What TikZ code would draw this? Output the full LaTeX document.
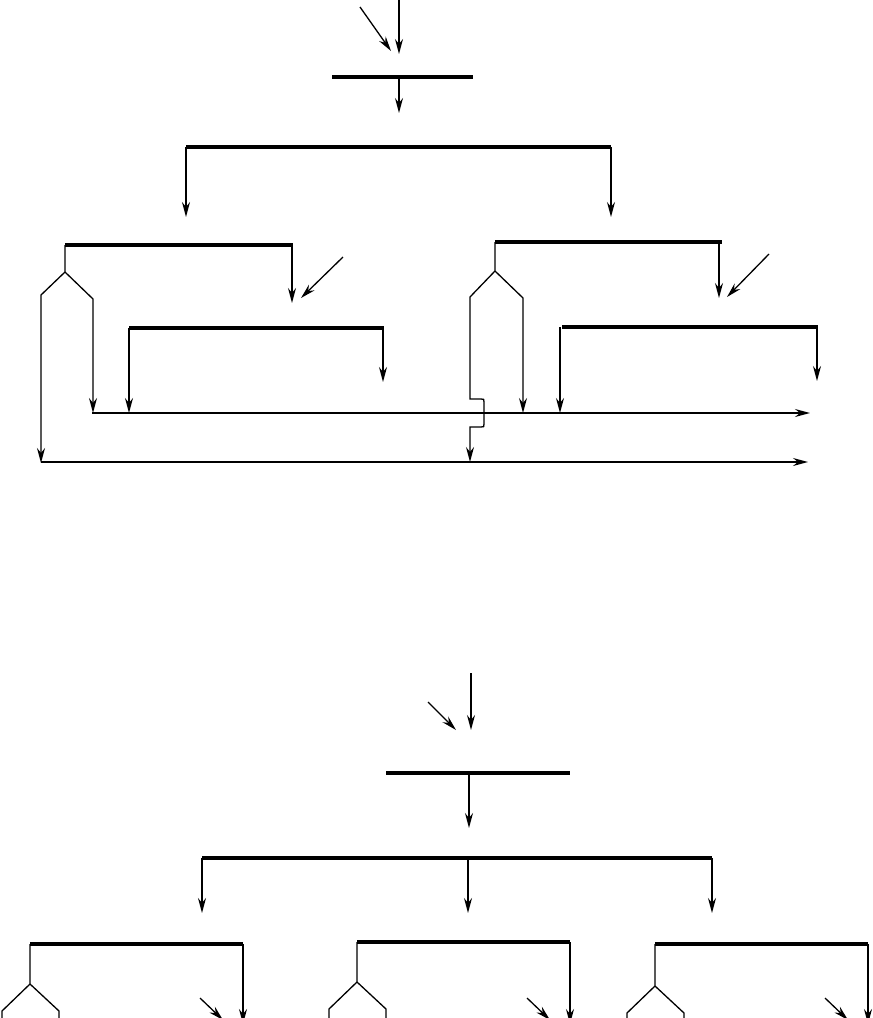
\documentclass[tikz,border=0pt]{standalone}
\usetikzlibrary{arrows.meta}
\begin{document}
\begin{tikzpicture}[x=1pt,y=-1pt,line width=1.3pt,
  flow/.style={-{Stealth[length=15pt,width=8pt,inset=5pt]}},
  bar/.style={line width=4pt}]
\useasboundingbox (0,0) rectangle (873,1018);
% ---------------- top diagram ----------------
\coordinate (inA) at (399,0);   \coordinate (inAe) at (399,54);
\coordinate (inB) at (360,7);   \coordinate (inBe) at (391,51);
\coordinate (b1l) at (332,77);  \coordinate (b1r) at (473,77);
\coordinate (b1c) at (399,77);  \coordinate (b1e) at (399,113);
\coordinate (b2l) at (186,147); \coordinate (b2r) at (611,147);
\coordinate (b2le) at (186,217); \coordinate (b2re) at (611,217);
\draw[flow] (inA) -- (inAe);
\draw[flow] (inB) -- (inBe);
\draw[bar] (b1l) -- (b1r);
\draw[flow] (b1c) -- (b1e);
\draw[bar] (b2l) -- (b2r);
\draw[flow] (b2l) -- (b2le);
\draw[flow] (b2r) -- (b2re);
% left subtree
\coordinate (L1) at (65,245);  \coordinate (L2) at (293,245);
\coordinate (Lr) at (292,245); \coordinate (Lre) at (292,303);
\coordinate (Ld) at (343,257); \coordinate (Lde) at (301,298);
\coordinate (Lv) at (65,272);
\coordinate (Lvl) at (41,295); \coordinate (Lvle) at (41,463);
\coordinate (Lvr) at (93,299); \coordinate (Lvre) at (93,413);
\coordinate (Li1) at (129,328); \coordinate (Li2) at (384,328);
\coordinate (Li1e) at (129,413);
\coordinate (Li2s) at (383,328); \coordinate (Li2e) at (383,382);
\draw[bar] (L1) -- (L2);
\draw[flow] (Lr) -- (Lre);
\draw[flow] (Ld) -- (Lde);
\draw[flow] (L1) -- (Lv) -- (Lvl) -- (Lvle);
\draw[flow] (Lv) -- (Lvr) -- (Lvre);
\draw[bar] (Li1) -- (Li2);
\draw[flow] (Li1) -- (Li1e);
\draw[flow] (Li2s) -- (Li2e);
% right subtree
\coordinate (R1) at (495,242); \coordinate (R2) at (722,242);
\coordinate (Rr) at (719,242); \coordinate (Rre) at (719,298);
\coordinate (Rd) at (769,254); \coordinate (Rde) at (727,297);
\coordinate (Rv) at (495,271);
\coordinate (Rvl) at (470,297);
\coordinate (Rj1) at (470,399); \coordinate (Rj2) at (470,427);
\coordinate (Rvle) at (470,462);
\coordinate (Rvr) at (523,298); \coordinate (Rvre) at (523,413);
\coordinate (Ri1) at (562,327); \coordinate (Ri2) at (818,327);
\coordinate (Ri1s) at (560,327); \coordinate (Ri1e) at (560,413);
\coordinate (Ri2s) at (817,327); \coordinate (Ri2e) at (817,381);
\draw[bar] (R1) -- (R2);
\draw[flow] (Rr) -- (Rre);
\draw[flow] (Rd) -- (Rde);
\draw[flow] (R1) -- (Rv) -- (Rvl) -- (Rj1) -- ++(11,0)
  .. controls ++(3,0) .. ++(3,3) -- ++(0,22)
  .. controls ++(0,3) .. ++(-3,3) -- (Rj2) -- (Rvle);
\draw[flow] (Rv) -- (Rvr) -- (Rvre);
\draw[bar] (Ri1) -- (Ri2);
\draw[flow] (Ri1s) -- (Ri1e);
\draw[flow] (Ri2s) -- (Ri2e);
% output lines
\coordinate (o1s) at (92,413);  \coordinate (o1e) at (810,413);
\coordinate (o2s) at (41,462);  \coordinate (o2e) at (808,462);
\draw[flow] (o1s) -- (o1e);
\draw[flow] (o2s) -- (o2e);
% ---------------- bottom diagram ----------------
\coordinate (jA) at (471,673);  \coordinate (jAe) at (471,730);
\coordinate (jB) at (428,702);  \coordinate (jBe) at (456,730);
\coordinate (c1l) at (386,773); \coordinate (c1r) at (570,773);
\coordinate (c1c) at (469,773); \coordinate (c1e) at (469,828);
\coordinate (c2l) at (202,858); \coordinate (c2r) at (712,858);
\coordinate (c2c) at (468,858);
\coordinate (c2le) at (202,913); \coordinate (c2ce) at (468,913); \coordinate (c2re) at (712,913);
\draw[flow] (jA) -- (jAe);
\draw[flow] (jB) -- (jBe);
\draw[bar] (c1l) -- (c1r);
\draw[flow] (c1c) -- (c1e);
\draw[bar] (c2l) -- (c2r);
\draw[flow] (c2l) -- (c2le);
\draw[flow] (c2c) -- (c2ce);
\draw[flow] (c2r) -- (c2re);
% three subtrees
\foreach \n/\a/\b/\y/\v in {P/30/243/944/984, Q/357/570/942/982, S/655/868/944/986}{
  \coordinate (\n1) at (\a,\y);
  \coordinate (\n2) at (\b,\y);
  \coordinate (\n2e) at (\b,1024);
  \coordinate (\n v) at (\a,\v);
  \coordinate (\n vl) at (\a-28,\v+27);
  \coordinate (\n vle) at (\a-28,1022);
  \coordinate (\n vr) at (\a+29,\v+27);
  \coordinate (\n vre) at (\a+29,1022);
  \coordinate (\n d) at (\b-43,998);
  \coordinate (\n de) at (\b-20,1020);
  \draw[bar] (\n1) -- (\n2);
  \draw (\n1) -- (\n v) -- (\n vl) -- (\n vle);
  \draw (\n v) -- (\n vr) -- (\n vre);
  \draw[flow] (\n2) -- (\n2e);
  \draw[flow] (\n d) -- (\n de);
}
\end{tikzpicture}
\end{document}
